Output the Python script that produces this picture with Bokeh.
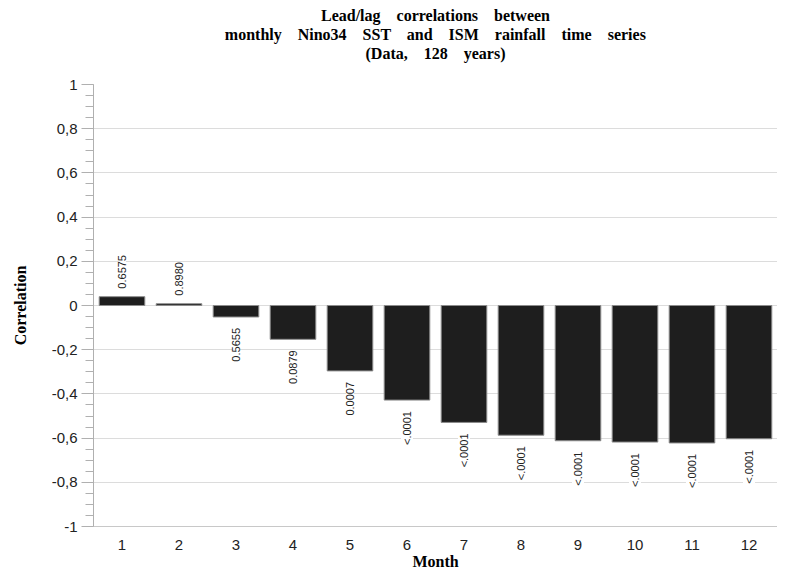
import math
from bokeh.plotting import figure
from bokeh.models import (ColumnDataSource, LabelSet, Title, FixedTicker,
                          CustomJSTickFormatter, Range1d)
from bokeh.core.properties import value
from bokeh.embed import file_html
from bokeh.resources import INLINE

# ---- data ----
months = [1, 2, 3, 4, 5, 6, 7, 8, 9, 10, 11, 12]
correlations = [0.040, 0.008, -0.052, -0.153, -0.296, -0.428,
                -0.529, -0.587, -0.612, -0.618, -0.622, -0.603]
p_values = ["0.6575", "0.8980", "0.5655", "0.0879", "0.0007", "<.0001",
            "<.0001", "<.0001", "<.0001", "<.0001", "<.0001", "<.0001"]
y_ticks = [-1.0, -0.8, -0.6, -0.4, -0.2, 0.0, 0.2, 0.4, 0.6, 0.8, 1.0]
title_lines = ["Lead/lag correlations between",
               "monthly Nino34 SST and ISM rainfall time series",
               "(Data, 128 years)"]

W, H = 777, 572
LEFT, BOTTOM, TOP = 93, 45, 84
GAP = " " + "\u00a0" * 3

src = ColumnDataSource(dict(x=months, top=correlations, label=p_values))
pos_idx = [i for i, v in enumerate(correlations) if v >= 0]
neg_idx = [i for i, v in enumerate(correlations) if v < 0]
src_pos = ColumnDataSource(dict(x=[months[i] for i in pos_idx],
                                y=[correlations[i] for i in pos_idx],
                                label=[p_values[i] for i in pos_idx]))
src_neg = ColumnDataSource(dict(x=[months[i] for i in neg_idx],
                                y=[correlations[i] for i in neg_idx],
                                label=[p_values[i] for i in neg_idx]))

p = figure(width=W, height=H, output_backend="svg", toolbar_location=None,
           title=None,
           x_range=Range1d(0.5, 12.5), y_range=Range1d(-1, 1),
           min_border_left=LEFT, min_border_right=0, min_border_top=TOP,
           min_border_bottom=BOTTOM)

# title: spacer next to the frame, then three centred lines (outermost last)
p.add_layout(Title(text="\u00a0", text_font_size="18.5px", standoff=0), "above")
for line in reversed(title_lines):
    p.add_layout(Title(text=GAP.join(line.split(" ")), align="center",
                       text_font="Liberation Serif", text_font_style="bold",
                       text_font_size="16px", text_color="black",
                       standoff=0, offset=0), "above")

p.vbar(x="x", top="top", bottom=0, width=0.8, source=src,
       fill_color="#1e1e1e", line_color="#8c8c8c", line_width=1)

label_style = dict(text="label", angle=math.pi / 2,
                   text_font=value("Liberation Sans"),
                   text_font_size=value("11px"),
                   text_color="#222222", text_baseline="middle",
                   background_fill_color="white")
p.add_layout(LabelSet(x="x", y="y", source=src_pos, text_align="left",
                      y_offset=8, **label_style))
p.add_layout(LabelSet(x="x", y="y", source=src_neg, text_align="right",
                      y_offset=-11, **label_style))

# axes
p.outline_line_color = None
p.xgrid.grid_line_color = None
p.ygrid.grid_line_color = "#dcdcdc"
p.ygrid.ticker = FixedTicker(ticks=y_ticks)

p.yaxis.ticker = FixedTicker(ticks=y_ticks,
                             minor_ticks=[round(-1 + 0.05 * i, 2) for i in range(41)])
p.yaxis.formatter = CustomJSTickFormatter(
    code="return (Math.round(tick*10)/10).toString().replace('.', ',');")
p.yaxis.axis_line_color = "#b0b0b0"
p.yaxis.major_tick_line_color = "#b0b0b0"
p.yaxis.minor_tick_line_color = "#b0b0b0"
p.yaxis.major_tick_out = 12
p.yaxis.major_tick_in = 0
p.yaxis.minor_tick_out = 8
p.yaxis.minor_tick_in = 0
p.yaxis.major_label_standoff = 4
p.yaxis.major_label_text_font = "Liberation Sans"
p.yaxis.major_label_text_font_size = "15px"
p.yaxis.major_label_text_color = "#222222"
p.yaxis.axis_label = "Correlation"
p.yaxis.axis_label_text_font = "Liberation Serif"
p.yaxis.axis_label_text_font_style = "bold"
p.yaxis.axis_label_text_font_size = "16px"
p.yaxis.axis_label_text_color = "black"
p.yaxis.axis_label_standoff = 20

p.xaxis.ticker = FixedTicker(ticks=months)
p.xaxis.axis_line_color = "#c8c8c8"
p.xaxis.major_tick_line_color = None
p.xaxis.minor_tick_line_color = None
p.xaxis.major_tick_out = 0
p.xaxis.major_tick_in = 0
p.xaxis.major_label_standoff = 13
p.xaxis.major_label_text_font = "Liberation Sans"
p.xaxis.major_label_text_font_size = "15px"
p.xaxis.major_label_text_color = "#222222"
p.xaxis.axis_label = "Month"
p.xaxis.axis_label_text_font = "Liberation Serif"
p.xaxis.axis_label_text_font_style = "bold"
p.xaxis.axis_label_text_font_size = "16px"
p.xaxis.axis_label_text_color = "black"
p.xaxis.axis_label_standoff = 0

open("out.html", "w").write(file_html(p, INLINE))
